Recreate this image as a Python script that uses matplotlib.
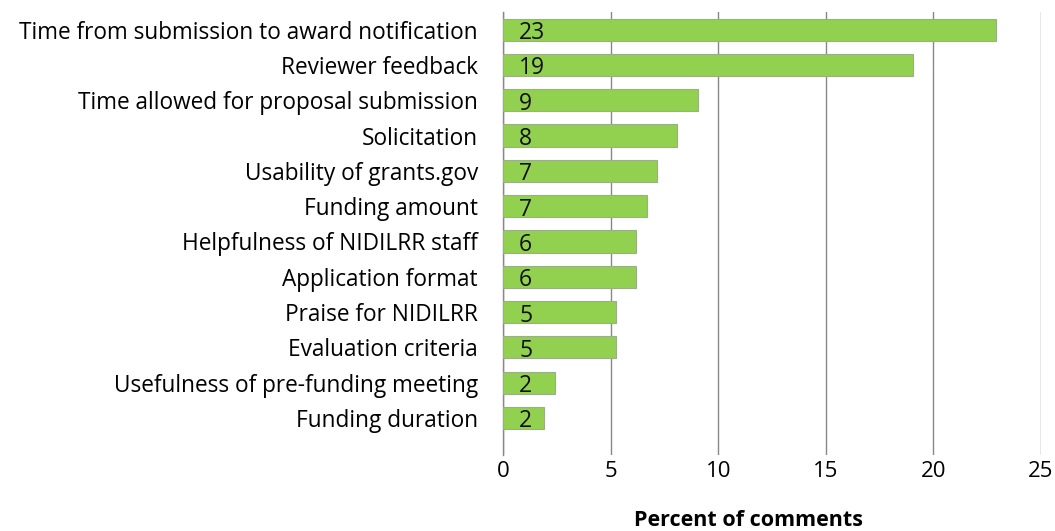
import matplotlib
matplotlib.use("Agg")
import matplotlib.pyplot as plt

categories = [
    "Time from submission to award notification",
    "Reviewer feedback",
    "Time allowed for proposal submission",
    "Solicitation",
    "Usability of grants.gov",
    "Funding amount",
    "Helpfulness of NIDILRR staff",
    "Application format",
    "Praise for NIDILRR",
    "Evaluation criteria",
    "Usefulness of pre-funding meeting",
    "Funding duration",
]
values = [22.9, 19.05, 9.05, 8.1, 7.15, 6.7, 6.2, 6.2, 5.25, 5.25, 2.4, 1.9]
xticks = [0, 5, 10, 15, 20, 25]

plt.rcParams['font.family'] = ['Open Sans', 'DejaVu Sans']

fig = plt.figure(figsize=(10.55, 5.31), dpi=100)
ax = fig.add_axes([503/1055, 1 - 455/531, (1041-503)/1055, (455-12)/531])

ypos = list(range(len(categories)))
ax.barh(ypos, values, height=0.63, color="#92D050", edgecolor="#9aaf86", linewidth=0.8, zorder=3)
trans = matplotlib.transforms.blended_transform_factory(ax.transAxes, ax.transData)
for y, v in zip(ypos, values):
    ax.text(0.03, y + 0.1, f"{round(v):d}", va="center", ha="left", fontsize=16.5,
            color="#111111", zorder=4, transform=trans)

ax.set_yticks(ypos)
ax.set_yticklabels(categories, fontsize=16.3)
ax.set_ylim(len(categories) - 1 + 1.05, -0.5)
ax.set_xlim(0, 25)
ax.set_xticks(xticks)
ax.set_xticklabels([str(t) for t in xticks], fontsize=16)
ax.tick_params(axis='y', length=0, pad=18)
ax.tick_params(axis='x', length=0, pad=4)
ax.grid(axis='x', color="#888888", linewidth=1.0, zorder=0)
for s in ['top', 'right', 'bottom']:
    ax.spines[s].set_visible(False)
ax.spines['left'].set_color("#888888")
ax.spines['left'].set_linewidth(1.0)

fig.text(748/1055, 1 - 521/531, "Percent of comments", ha="center", va="center", fontsize=15.5, fontweight="bold")

fig.savefig("out.png", dpi=100)
